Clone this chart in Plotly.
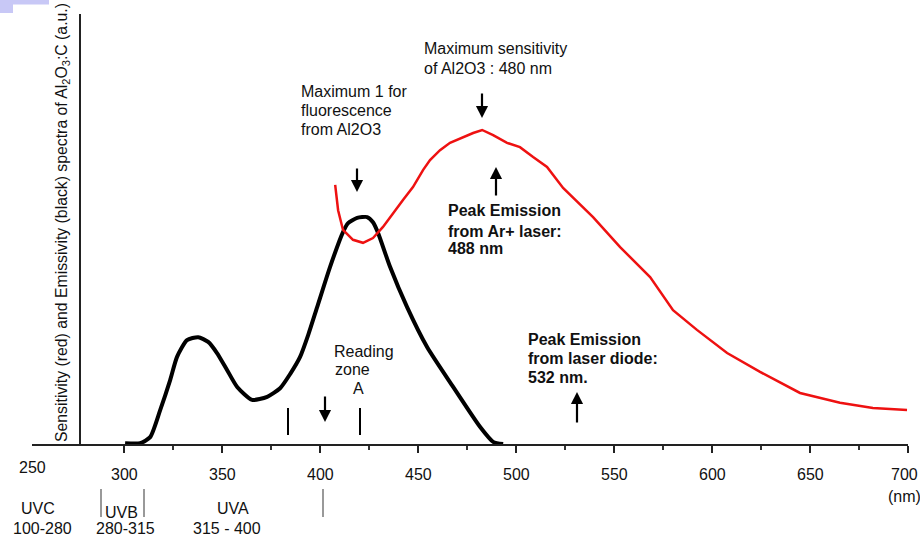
import plotly.graph_objects as go

# ---------------- data ----------------
emis_wl = [300.5, 308.2, 313.3, 318.4, 323.5, 327.0, 332.1, 337.8, 342.9, 347.4,
           352.6, 357.7, 365.3, 373.0, 379.6, 384.7, 389.8, 394.0, 398.5, 405.1, 411.7,
           414.3, 418.9, 424.0, 427.0, 429.6, 435.7, 444.4, 454.6, 467.9, 481.6,
           488.3, 493.4]
emis_val = [0.2, 0.2, 1.6, 7.9, 14.9, 20.3, 24.2, 24.9, 23.8, 21.2,
            17.2, 13.3, 10.3, 11.0, 13.0, 16.3, 20.3, 25.5, 31.9, 41.3, 49.4,
            51.5, 52.7, 52.9, 51.7, 49.2, 41.3, 31.9, 22.6, 13.3, 4.0,
            0.5, 0.0]

sens_wl = [407.7, 409.2, 411.7, 416.8, 421.9, 427.0, 432.1, 437.2, 442.3, 447.4,
           452.6, 456.1, 461.2, 466.3, 473.0, 478.1, 482.7, 488.3, 495.4, 502.0,
           508.7, 515.8, 524.0, 539.3, 553.1, 568.4, 580.1, 592.3, 607.7, 624.5,
           644.9, 665.3, 682.1, 699.5]
sens_val = [60.4, 54.5, 49.9, 47.6, 46.9, 48.0, 50.6, 53.8, 56.9, 59.9,
            63.9, 66.2, 68.5, 70.2, 71.6, 72.5, 73.2, 72.0, 70.2, 69.2,
            66.9, 64.6, 59.7, 52.9, 45.9, 38.9, 31.2, 26.6, 21.2, 16.8,
            11.9, 9.6, 8.4, 7.9]

tick_values = [250, 300, 350, 400, 450, 500, 550, 600, 650, 700]
tick_labels = ["250", "300", "350", "400", "450", "500", "550", "600", "650", "700"]
minor_ticks = [325, 375, 425, 475, 525, 575, 625, 675]

uv_bands = ["UVC", "UVB", "UVA"]
uv_ranges = ["100-280", "280-315", "315 - 400"]

# ---------------- layout helpers ----------------
W, H = 920, 539
L, R, T, B = 32, 12, 15, 95
PW = W - L - R
PH = H - T - B
X0, X1 = 253, 700


def PX(xp):
    return (xp - L) / PW


def PY(yp):
    return (H - B - yp) / PH


def wl2px(wl):
    return L + (wl - X0) / (X1 - X0) * PW


FONT = "Liberation Sans, Arial, sans-serif"
TXT = "#111111"

fig = go.Figure()
fig.add_trace(go.Scatter(x=emis_wl, y=emis_val, mode="lines",
                         line=dict(color="#000000", width=4, shape="spline", smoothing=0.6),
                         hoverinfo="skip"))
fig.add_trace(go.Scatter(x=sens_wl, y=sens_val, mode="lines",
                         line=dict(color="#ee1111", width=2.5),
                         hoverinfo="skip"))

ann = []


def text(t, xp, yp, anchor="left", size=16, yshift=0, xshift=0):
    ann.append(dict(text=t, x=PX(xp), y=PY(yp), xref="paper", yref="paper",
                    xanchor=anchor, yanchor="middle", showarrow=False,
                    font=dict(family=FONT, size=size, color=TXT),
                    xshift=xshift, yshift=yshift))


def arrow(xp, yp, ay):
    ann.append(dict(text="", x=PX(xp), y=PY(yp), xref="paper", yref="paper",
                    showarrow=True, ax=0, ay=ay, arrowhead=2, arrowsize=1.1,
                    arrowwidth=2.2, arrowcolor="#000000", standoff=0, startstandoff=0))


# annotation texts
text("Maximum sensitivity", 422, 49)
text("of Al2O3 : 480 nm", 422, 68)
text("Maximum 1 for", 299, 91)
text("fluorescence", 299, 110)
text("from Al2O3", 299, 129)
text("<b>Peak Emission</b>", 446, 211)
text("<b>from Ar+ laser:</b>", 446, 231)
text("<b>488 nm</b>", 446, 249)
text("<b>Peak Emission</b>", 526, 339)
text("<b>from laser diode:</b>", 526, 358)
text("<b>532 nm.</b>", 526, 377)
text("Reading", 332, 351)
text("zone", 333, 369)
text("A", 358, 388, anchor="center")
text("(nm)", 886, 497)

# UV band labels
uv_name_pos = [(37.5, 508), (121.5, 512), (232.5, 508)]
uv_range_pos = [(42.5, 528), (125.5, 528), (227, 528)]
for name, rng, (nx, ny), (rx, ry) in zip(uv_bands, uv_ranges, uv_name_pos, uv_range_pos):
    text(name, nx, ny, anchor="center")
    text(rng, rx, ry, anchor="center")

# x tick labels
for v, lab in zip(tick_values, tick_labels):
    if v == 250:
        text(lab, 32, 467, anchor="center")
    elif v == 700:
        text(lab, 904, 474.5, anchor="center")
    else:
        text(lab, wl2px(v), 474.5, anchor="center")

# arrows
arrow(482, 118, -26)
arrow(357, 192, -25)
arrow(496, 167, 30)
arrow(577, 392, 32)
arrow(325, 422, -27)

# y-axis title
ann.append(dict(text="Sensitivity (red) and Emissivity (black) spectra of Al<sub>2</sub>O<sub>3</sub>:C (a.u.)",
                x=PX(62), y=PY(223), xref="paper", yref="paper", textangle=-90,
                showarrow=False, xanchor="center", yanchor="middle",
                font=dict(family=FONT, size=15.8, color=TXT)))

shapes = []
# y axis line
shapes.append(dict(type="line", xref="paper", yref="paper", x0=PX(80), x1=PX(80),
                   y0=PY(444), y1=PY(14), line=dict(color="#222222", width=2)))
# reading zone bars
for xb in (288, 360):
    shapes.append(dict(type="line", xref="paper", yref="paper", x0=PX(xb), x1=PX(xb),
                       y0=PY(435), y1=PY(408), line=dict(color="#000000", width=2)))
# UV separators
for xb in (101, 144, 323):
    shapes.append(dict(type="line", xref="paper", yref="paper", x0=PX(xb), x1=PX(xb),
                       y0=PY(517), y1=PY(489), line=dict(color="#555555", width=1.2)))
# blue corner decoration
shapes.append(dict(type="rect", xref="paper", yref="paper", x0=PX(0), x1=PX(49),
                   y0=PY(4.5), y1=PY(0), fillcolor="#c8c8f6", line=dict(width=0)))
shapes.append(dict(type="rect", xref="paper", yref="paper", x0=PX(0), x1=PX(13),
                   y0=PY(13), y1=PY(0), fillcolor="#c8c8f6", line=dict(width=0)))

fig.update_layout(
    width=W, height=H,
    margin=dict(l=L, r=R, t=T, b=B),
    paper_bgcolor="white", plot_bgcolor="white",
    showlegend=False,
    annotations=ann, shapes=shapes,
    xaxis=dict(range=[X0, X1], showgrid=False, zeroline=False,
               showline=True, linecolor="#222222", linewidth=2,
               ticks="outside", ticklen=7, tickwidth=2, tickcolor="#222222",
               tickvals=tick_values[1:], showticklabels=False,
               minor=dict(tickvals=minor_ticks, ticks="outside", ticklen=4,
                          tickwidth=1.5, tickcolor="#333333")),
    yaxis=dict(range=[0, 100], visible=False),
)

fig.write_html("out.html", config={"displayModeBar": False},
               post_script="document.body.style.margin='0px';document.body.style.overflow='hidden';")
